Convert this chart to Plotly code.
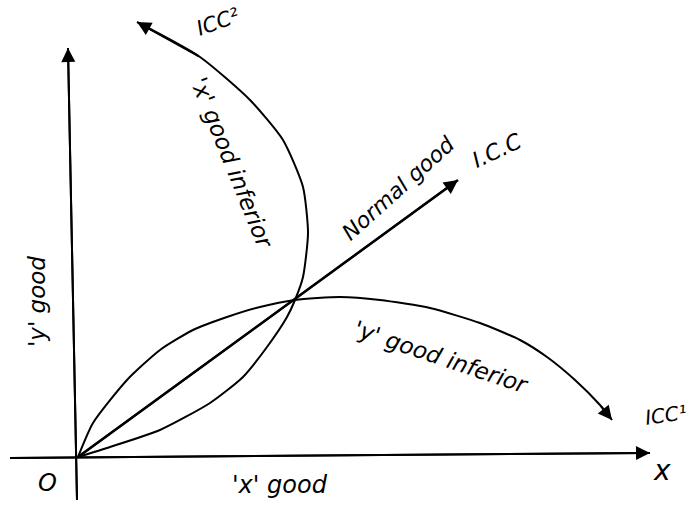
import plotly.graph_objects as go

# ---- data (units: quantity of good x / good y, origin at O) ----
# ICC1 : 'y' good inferior (upper lens from O to E, then bends down)
icc1_x = [0, 15, 49, 82, 115, 149, 182, 217, 262, 302, 352, 402, 442, 469, 497, 522, 534]
icc1_y = [0, 34, 77, 107, 127, 140, 150, 157, 160, 157, 149, 134, 117, 100, 77, 52, 37]

# ICC2 : 'x' good inferior (lower lens from O to E, then bends back left)
icc2_x = [0, 32, 82, 132, 165, 189, 209, 217, 225, 230, 225, 205, 172, 122, 59]
icc2_y = [0, 10, 27, 54, 80, 110, 140, 157, 180, 224, 270, 317, 357, 400, 435]

# I.C.C : normal good (straight line from origin)
icc_x = [0, 380]
icc_y = [0, 277]

# axes lines
xaxis_line_x = [-68, 572]
xaxis_line_y = [-1, 4]
yaxis_line_x = [-1, -10]
yaxis_line_y = [-43, 409]

fig = go.Figure()
for xs, ys, w, sm in [(icc1_x, icc1_y, 2, 0.6), (icc2_x, icc2_y, 2, 0.6), (icc_x, icc_y, 2.5, 0),
                      (xaxis_line_x, xaxis_line_y, 2, 0), (yaxis_line_x, yaxis_line_y, 2, 0)]:
    fig.add_trace(go.Scatter(x=xs, y=ys, mode="lines",
                             line=dict(color="black", width=w,
                                       shape="spline" if sm else "linear", smoothing=sm or None),
                             hoverinfo="skip", showlegend=False))

def arrow(xs, ys):
    fig.add_annotation(x=xs[-1], y=ys[-1], ax=xs[-2], ay=ys[-2], axref="x", ayref="y",
                       xref="x", yref="y", text="", showarrow=True, arrowhead=2,
                       arrowsize=1.4, arrowwidth=2, arrowcolor="black")

arrow(icc1_x, icc1_y)
arrow(icc2_x, icc2_y)
arrow(icc_x, icc_y)
arrow(xaxis_line_x, xaxis_line_y)
arrow(yaxis_line_x, yaxis_line_y)

font = dict(family="DejaVu Sans", color="black", size=17, style="italic")
labels = [
    ("ICC²", 140, 435, -20, 21),
    ("'x' good inferior", 154, 294, 68, 23),
    ("Normal good", 320, 269, -42, 22),
    ("I.C.C", 419, 307, -25, 22),
    ("'y' good inferior", 363, 100, 18.6, 23),
    ("ICC¹", 588, 42, -8, 20),
    ("'y' good", -41, 155, -90, 23),
    ("O", -31, -26, 0, 24),
    ("'x' good", 202, -28, 0, 24),
    ("x", 584, -13, 0, 28),
]
for t, x, y, ang, sz in labels:
    fig.add_annotation(x=x, y=y, text=t, showarrow=False, textangle=ang,
                       font=dict(font, size=sz), xref="x", yref="y")

fig.update_xaxes(range=[-78, 619], visible=False, showgrid=False, zeroline=False)
fig.update_yaxes(range=[-49, 457], visible=False, showgrid=False, zeroline=False)
fig.update_layout(width=697, height=506, margin=dict(l=0, r=0, t=0, b=0),
                  plot_bgcolor="white", paper_bgcolor="white")
fig.write_html("out.html", config={"displayModeBar": False},
               post_script="document.body.style.margin='0';document.body.style.overflow='hidden';")
